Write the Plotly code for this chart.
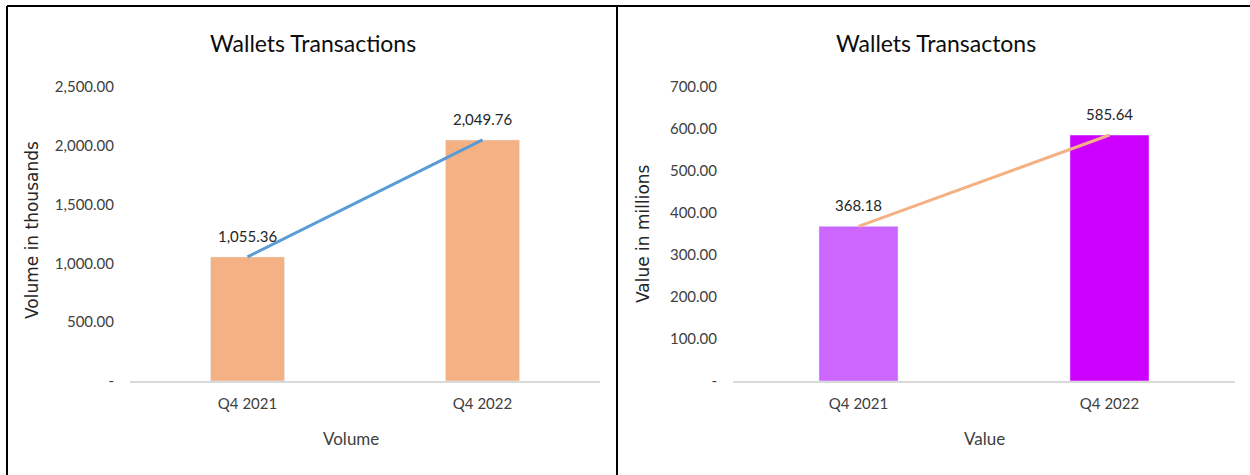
import plotly.graph_objects as go
from plotly.subplots import make_subplots

# data
quarters = ["Q4 2021", "Q4 2022"]
volume_thousands = [1055.36, 2049.76]
value_millions = [368.18, 585.64]

volume_ticks = [0, 500, 1000, 1500, 2000, 2500]
value_ticks = [0, 100, 200, 300, 400, 500, 600, 700]

volume_bar_colors = ["#F4B183", "#F4B183"]
value_bar_colors = ["#CC66FF", "#CC00FF"]

W, H = 1250, 475
LABEL_FONT = "Lato, Open Sans, sans-serif"
TITLE_FONT = "DejaVu Sans, Verdana, sans-serif"
TEXT = "#404040"


def tick_text(vals):
    return ["-" if v == 0 else f"{v:,.2f}" for v in vals]


def px(x, y):
    # pixel position -> paper fraction
    return x / W, 1 - y / H


fig = make_subplots(rows=1, cols=2)

# left panel: volume
fig.add_trace(go.Bar(x=quarters, y=volume_thousands, marker_color=volume_bar_colors,
                     width=0.315, showlegend=False), row=1, col=1)
fig.add_trace(go.Scatter(x=quarters, y=volume_thousands, mode="lines",
                         line=dict(color="#5B9BD5", width=3), showlegend=False), row=1, col=1)

# right panel: value
fig.add_trace(go.Bar(x=quarters, y=value_millions, marker_color=value_bar_colors,
                     width=0.315, showlegend=False), row=1, col=2)
fig.add_trace(go.Scatter(x=quarters, y=value_millions, mode="lines",
                         line=dict(color="#F4B183", width=3), showlegend=False), row=1, col=2)

# data labels
for q, v in zip(quarters, volume_thousands):
    fig.add_annotation(x=q, y=v, xref="x", yref="y", text=f"{v:,.2f}", showarrow=False,
                       yshift=21, font=dict(family=LABEL_FONT, size=15, color="#262626"))
for q, v in zip(quarters, value_millions):
    fig.add_annotation(x=q, y=v, xref="x2", yref="y2", text=f"{v:,.2f}", showarrow=False,
                       yshift=21, font=dict(family=LABEL_FONT, size=15, color="#262626"))

axis_common = dict(showgrid=False, zeroline=False, ticks="", automargin=False,
                   tickfont=dict(family=LABEL_FONT, size=15, color=TEXT))

fig.update_xaxes(**axis_common, showline=True, linecolor="#D9D9D9", linewidth=2,
                 ticklabelstandoff=8)
fig.update_yaxes(**axis_common, showline=False, ticklabelstandoff=15)

fig.update_xaxes(domain=[130 / W, 600 / W], row=1, col=1)
fig.update_xaxes(domain=[733 / W, 1235 / W], row=1, col=2)
fig.update_yaxes(domain=[1 - 381 / H, 1 - 87 / H], range=[0, 2500], tickvals=volume_ticks,
                 ticktext=tick_text(volume_ticks), row=1, col=1)
fig.update_yaxes(domain=[1 - 381 / H, 1 - 87 / H], range=[0, 700], tickvals=value_ticks,
                 ticktext=tick_text(value_ticks), row=1, col=2)

# chart titles and axis titles, placed in pixels
texts = [
    (313, 43, "Wallets Transactions", LABEL_FONT, 23, "#0D0D0D", 0),
    (936, 43, "Wallets Transactons", LABEL_FONT, 23, "#0D0D0D", 0),
    (351, 438, "Volume", LABEL_FONT, 17, TEXT, 0),
    (984, 438, "Value", LABEL_FONT, 17, TEXT, 0),
    (32, 230, "Volume in thousands", TITLE_FONT, 17, "#262626", -90),
    (643, 234, "Value in millions", TITLE_FONT, 17, "#262626", -90),
]
for x, y, t, fam, size, color, angle in texts:
    ax, ay = px(x, y)
    fig.add_annotation(x=ax, y=ay, xref="paper", yref="paper", text=t, showarrow=False,
                       xanchor="center", yanchor="middle", textangle=angle,
                       font=dict(family=fam, size=size, color=color))

# frame lines around the two panels
frame = dict(type="line", xref="paper", yref="paper", line=dict(color="black", width=2))
fig.add_shape(**frame, x0=7 / W, x1=1.0, y0=1 - 6 / H, y1=1 - 6 / H)
fig.add_shape(**frame, x0=7 / W, x1=7 / W, y0=0, y1=1 - 6 / H)
fig.add_shape(**frame, x0=617 / W, x1=617 / W, y0=0, y1=1 - 6 / H)

fig.update_layout(
    width=W, height=H,
    margin=dict(l=0, r=0, t=0, b=0),
    plot_bgcolor="white", paper_bgcolor="white",
)

# drop the default page margin so the figure sits at the window's corner
fig.write_html("out.html", config={"displayModeBar": False},
               post_script="document.body.style.margin = '0';")
